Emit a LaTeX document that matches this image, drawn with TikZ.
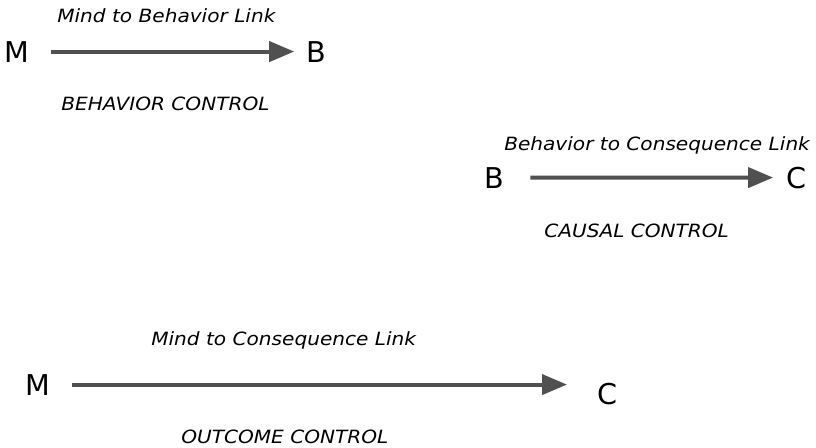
\documentclass[tikz,border=0pt]{standalone}
\usepackage{fontspec}
\setmainfont{DejaVu Sans}
\newfontfamily\lblfont[FakeStretch=1.1]{DejaVu Sans}
\usetikzlibrary{arrows.meta}
\definecolor{arrowgray}{RGB}{80,80,80}
\begin{document}
\begin{tikzpicture}[x=0.75pt,y=-0.75pt,
  letter/.style={font=\fontsize{21.5pt}{24pt}\selectfont, inner sep=0pt, anchor=base west},
  linklabel/.style={font=\lblfont\fontsize{13.7pt}{16pt}\selectfont\itshape, inner sep=0pt, anchor=base west},
  link/.style={draw=arrowgray, line width=3pt, -{Triangle[length=18.75pt,width=15pt]}}]
\useasboundingbox (0,0) rectangle (816,447);
% Row 1
\node[letter] (m1) at (4.2,62) {M};
\node[letter] (b1) at (306.2,62) {B};
\node[linklabel] (l1) at (57,22) {Mind to Behavior Link};
\node[linklabel] (c1) at (61,110.5) {BEHAVIOR CONTROL};
\draw[link, shorten <=15.8pt, shorten >=9pt] (m1.east) -- (b1.west);
% Row 2
\node[letter] (b2) at (484.2,188) {B};
\node[letter] (cc2) at (786.4,188) {C};
\node[linklabel] (l2) at (504,150) {Behavior to Consequence Link};
\node[linklabel] (c2) at (544,237) {CAUSAL CONTROL};
\draw[link, shorten <=19.5pt, shorten >=10pt] (b2.east) -- (cc2.west);
% Row 3
\node[letter] (m3) at (25.2,395) {M};
\node[letter] (cc3) at (597.4,404) {C};
\node[linklabel] (l3) at (151,345) {Mind to Consequence Link};
\node[linklabel] (c3) at (181,443) {OUTCOME CONTROL};
\draw[link, shorten <=16.5pt, shorten >=22.8pt] (m3.east) -- (m3.east -| cc3.west);
\end{tikzpicture}
\end{document}
